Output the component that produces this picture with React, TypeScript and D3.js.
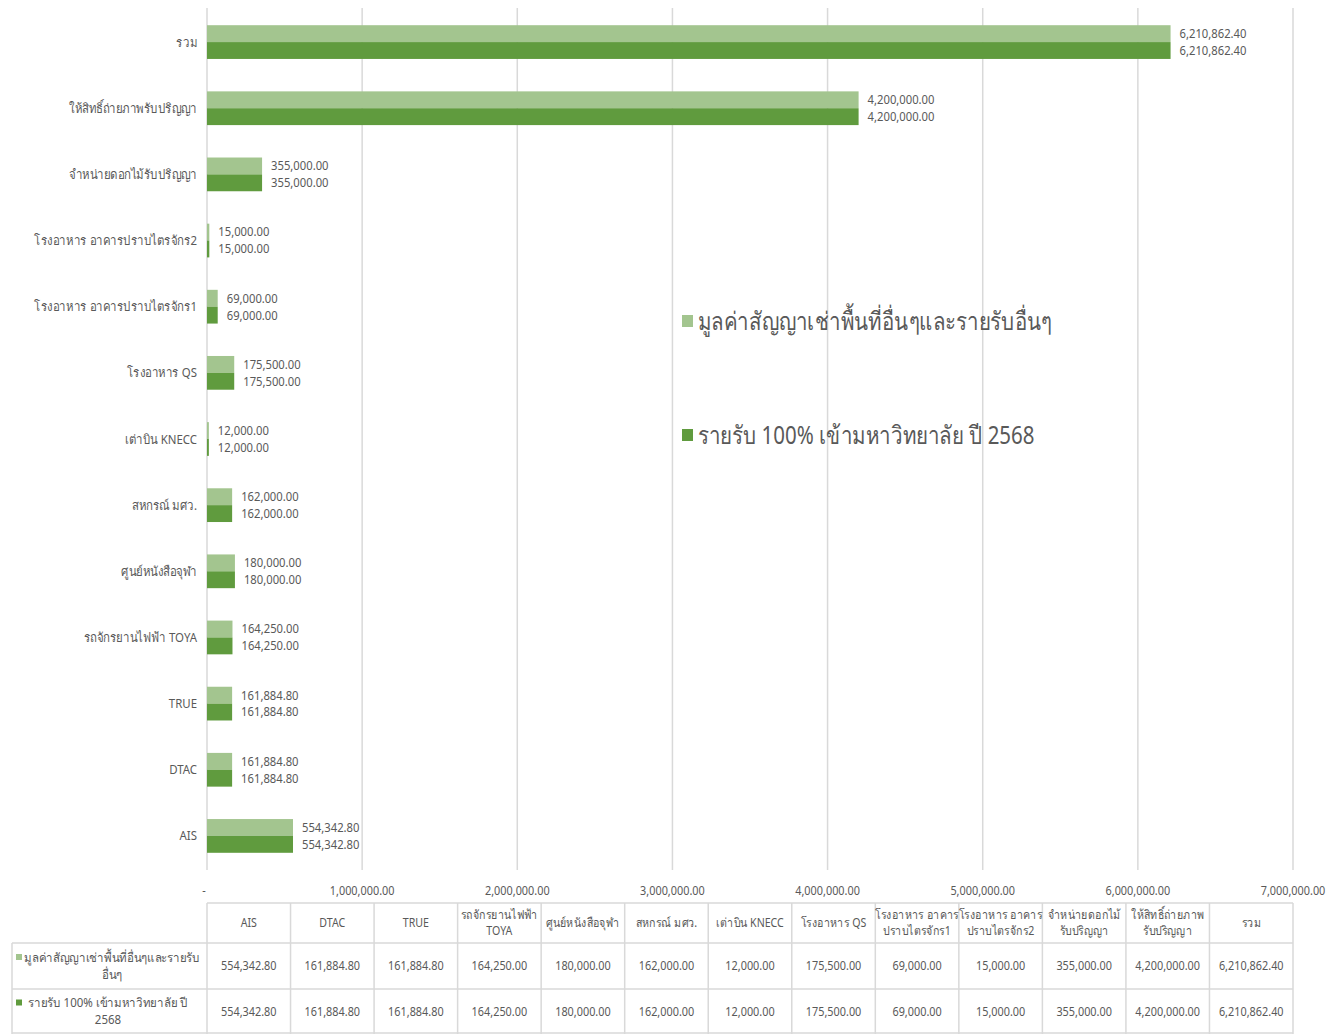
import React from "react";
import * as d3 from "d3";

const categories = [
  "AIS",
  "DTAC",
  "TRUE",
  "รถจักรยานไฟฟ้า TOYA",
  "ศูนย์หนังสือจุฬา",
  "สหกรณ์ มศว.",
  "เต่าบิน KNECC",
  "โรงอาหาร QS",
  "โรงอาหาร อาคารปราบไตรจักร1",
  "โรงอาหาร อาคารปราบไตรจักร2",
  "จำหน่ายดอกไม้รับปริญญา",
  "ให้สิทธิ์ถ่ายภาพรับปริญญา",
  "รวม",
];

const tableHeaders: string[][] = [
  ["AIS"],
  ["DTAC"],
  ["TRUE"],
  ["รถจักรยานไฟฟ้า", "TOYA"],
  ["ศูนย์หนังสือจุฬา"],
  ["สหกรณ์ มศว."],
  ["เต่าบิน KNECC"],
  ["โรงอาหาร QS"],
  ["โรงอาหาร อาคาร", "ปราบไตรจักร1"],
  ["โรงอาหาร อาคาร", "ปราบไตรจักร2"],
  ["จำหน่ายดอกไม้", "รับปริญญา"],
  ["ให้สิทธิ์ถ่ายภาพ", "รับปริญญา"],
  ["รวม"],
];

const seriesNames = [
  "มูลค่าสัญญาเช่าพื้นที่อื่นๆและรายรับอื่นๆ",
  "รายรับ 100% เข้ามหาวิทยาลัย ปี 2568",
];
const seriesTableNames: string[][] = [
  ["มูลค่าสัญญาเช่าพื้นที่อื่นๆและรายรับ", "อื่นๆ"],
  ["รายรับ 100% เข้ามหาวิทยาลัย ปี", "2568"],
];

const rentValues = [
  554342.8, 161884.8, 161884.8, 164250, 180000, 162000, 12000, 175500, 69000,
  15000, 355000, 4200000, 6210862.4,
];
const incomeValues = [
  554342.8, 161884.8, 161884.8, 164250, 180000, 162000, 12000, 175500, 69000,
  15000, 355000, 4200000, 6210862.4,
];

const xTicks = [0, 1000000, 2000000, 3000000, 4000000, 5000000, 6000000, 7000000];

const colors = ["#a3c58f", "#609b3e"];

const fmt = (v: number) => d3.format(",.2f")(v);
const tickFmt = (v: number) => (v === 0 ? "-" : d3.format(",.2f")(v));

const FONT = "'Noto Sans', sans-serif";
const TEXT = "#595959";
const GRID = "#d9d9d9";

type TProps = {
  x: number;
  y: number;
  sx: number;
  size: number;
  anchor?: "start" | "middle" | "end";
  lines: string[];
  lh?: number;
};

// condensed text: scaled horizontally around its anchor point
function T({ x, y, sx, size, anchor = "start", lines, lh = 16 }: TProps) {
  const off = ((lines.length - 1) * lh) / 2;
  return (
    <text
      transform={`translate(${x},${y}) scale(${sx},1)`}
      textAnchor={anchor}
      fontSize={size}
      fill={TEXT}
    >
      {lines.map((ln, j) => (
        <tspan key={j} x={0} y={-off + j * lh} dy="0.35em">
          {ln}
        </tspan>
      ))}
    </text>
  );
}

export default function App() {
  const W = 1329;
  const H = 1034;
  const x0 = 207;
  const x1 = 1293;
  const yTop = 9;
  const yBot = 869;

  const x = d3.scaleLinear().domain([0, 7000000]).range([x0, x1]);
  const order = [...categories].reverse();
  const y = d3
    .scaleBand<string>()
    .domain(order)
    .range([yTop, yBot])
    .paddingInner(0.49)
    .paddingOuter(0.245);
  const sub = d3.scaleBand<number>().domain([0, 1]).range([0, y.bandwidth()]);

  const series = [rentValues, incomeValues];

  const tTop = 903;
  const tHead = 943;
  const tRow1 = 989;
  const tRow2 = 1034;
  const colW = (x1 - x0) / categories.length;
  const legendLeft = 12;

  return (
    <svg
      width={W}
      height={H}
      style={{ position: "absolute", left: 0, top: 0, background: "#fff" }}
      fontFamily={FONT}
    >
      {xTicks.map((t) => (
        <line key={"g" + t} x1={x(t)} x2={x(t)} y1={8} y2={870} stroke={GRID} strokeWidth={1.5} />
      ))}

      {categories.map((c, i) =>
        series.map((vals, s) => {
          const by = (y(c) as number) + (sub(s) as number);
          return (
            <g key={c + s}>
              <rect x={x(0)} y={by} width={x(vals[i]) - x(0)} height={sub.bandwidth()} fill={colors[s]} />
              <T x={x(vals[i]) + 9} y={by + sub.bandwidth() / 2} sx={0.9} size={12.5} lines={[fmt(vals[i])]} />
            </g>
          );
        })
      )}

      {categories.map((c) => (
        <T
          key={"l" + c}
          x={197}
          y={(y(c) as number) + y.bandwidth() / 2}
          sx={0.88}
          size={13}
          anchor="end"
          lines={[c]}
        />
      ))}

      {xTicks.map((t) => (
        <T
          key={"t" + t}
          x={t === 0 ? x(t) - 3 : x(t)}
          y={891}
          sx={0.87}
          size={12.5}
          anchor="middle"
          lines={[tickFmt(t)]}
        />
      ))}

      {seriesNames.map((n, s) => (
        <g key={"lg" + s}>
          <rect x={682} y={(s === 0 ? 321 : 435) - 6} width={11} height={12} fill={colors[s]} />
          <T x={698} y={s === 0 ? 321 : 435} sx={0.82} size={25} lines={[n]} />
        </g>
      ))}

      <g stroke={GRID} strokeWidth={1.5}>
        <line x1={x0} x2={x1} y1={tTop} y2={tTop} />
        <line x1={legendLeft} x2={x1} y1={tHead} y2={tHead} />
        <line x1={legendLeft} x2={x1} y1={tRow1} y2={tRow1} />
        <line x1={legendLeft} x2={x1} y1={tRow2 - 1} y2={tRow2 - 1} />
        <line x1={legendLeft} x2={legendLeft} y1={tHead} y2={tRow2} />
        {d3.range(categories.length + 1).map((k) => (
          <line key={"v" + k} x1={x0 + k * colW} x2={x0 + k * colW} y1={tTop} y2={tRow2} />
        ))}
      </g>

      {tableHeaders.map((lines, k) => (
        <T
          key={"h" + k}
          x={x0 + k * colW + colW / 2}
          y={(tTop + tHead) / 2}
          sx={0.85}
          size={12.5}
          anchor="middle"
          lines={lines}
        />
      ))}

      {series.map((vals, s) => {
        const rt = s === 0 ? tHead : tRow1;
        const rb = s === 0 ? tRow1 : tRow2;
        const cy = (rt + rb) / 2;
        return (
          <g key={"r" + s}>
            <rect x={16} y={cy - 12} width={6} height={6} fill={colors[s]} />
            <T x={s === 0 ? 112 : 108} y={cy} sx={0.92} size={12.5} anchor="middle" lines={seriesTableNames[s]} lh={17} />
            {vals.map((v, k) => (
              <T
                key={"c" + k}
                x={x0 + k * colW + colW / 2}
                y={cy}
                sx={0.87}
                size={12.5}
                anchor="middle"
                lines={[fmt(v)]}
              />
            ))}
          </g>
        );
      })}
    </svg>
  );
}
